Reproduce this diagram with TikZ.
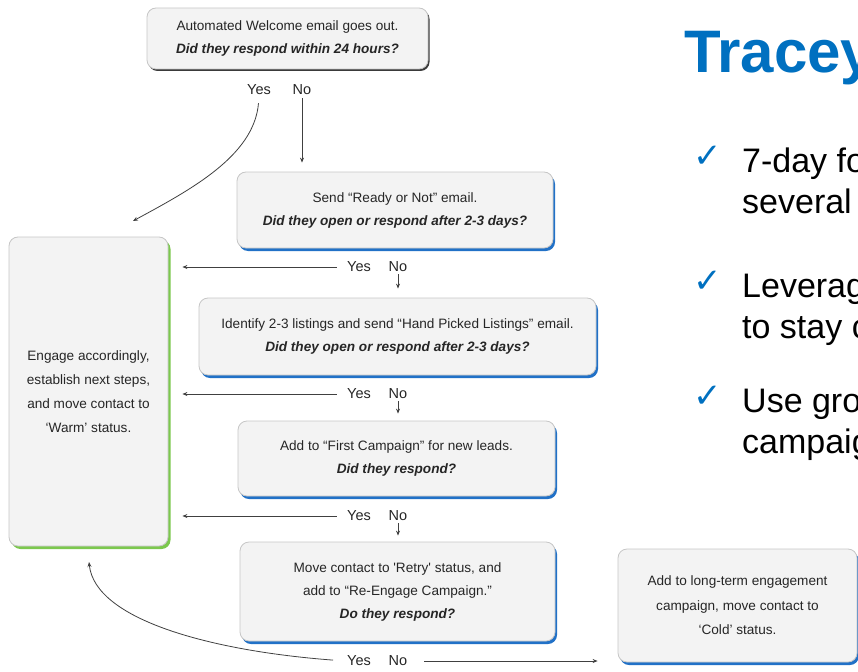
\documentclass[tikz,border=0pt]{standalone}
\usepackage{fontspec}
\setmainfont{Liberation Sans}
\newfontfamily\symfont{DejaVu Sans}
\usetikzlibrary{arrows.meta,shadows}

\definecolor{boxfill}{HTML}{F3F3F3}
\definecolor{boxline}{HTML}{C6C6C6}
\definecolor{boxtext}{HTML}{262626}
\definecolor{darkshade}{HTML}{3A3A3A}
\definecolor{blueshade}{HTML}{2171C7}
\definecolor{greenshade}{HTML}{7CC84E}
\definecolor{titleblue}{HTML}{0070C0}
\definecolor{linegrey}{HTML}{404040}

\tikzset{
  card/.style={draw=boxline, fill=boxfill, rounded corners=9pt, line width=0.8pt,
    align=center, text=boxtext, inner sep=0pt, font=\fontsize{13.6}{23}\selectfont},
  darkcard/.style={card, drop shadow={shadow xshift=1.5pt, shadow yshift=-2pt, fill=darkshade, opacity=1}},
  bluecard/.style={card, drop shadow={shadow xshift=2pt, shadow yshift=-3pt, fill=blueshade, opacity=1}},
  greencard/.style={card, drop shadow={shadow xshift=2.5pt, shadow yshift=-3pt, fill=greenshade, opacity=1}},
  yn/.style={font=\fontsize{14.5}{16}\selectfont, text=boxtext, inner sep=2pt},
  conn/.style={draw=linegrey, line width=0.8pt},
  tick/.style={font=\symfont\fontsize{34}{34}\selectfont, text=titleblue, inner sep=0pt},
  bullet/.style={font=\fontsize{34}{41}\selectfont, anchor=base west, inner sep=0pt},
}

\begin{document}
\begin{tikzpicture}[x=1pt,y=-1pt,>={Stealth[length=5pt,width=4pt]}]
  \useasboundingbox (0,0) rectangle (858,671);
  \clip (0,0) rectangle (858,671);

  %% flow boxes
  \node[darkcard, minimum width=281pt, minimum height=61pt] (1) at (287.5,38.5)
    {Automated Welcome email goes out.\\\textbf{\textit{Did they respond within 24 hours?}}};
  \node[bluecard, minimum width=316pt, minimum height=76pt] (2) at (395,210)
    {Send “Ready or Not” email.\\\textbf{\textit{Did they open or respond after 2-3 days?}}};
  \node[bluecard, minimum width=397pt, minimum height=77pt] (3) at (397.5,336.5)
    {Identify 2-3 listings and send “Hand Picked Listings” email.\\\textbf{\textit{Did they open or respond after 2-3 days?}}};
  \node[bluecard, minimum width=317pt, minimum height=75pt] (4) at (396.5,458.5)
    {Add to “First Campaign” for new leads.\\\textbf{\textit{Did they respond?}}};
  \node[bluecard, minimum width=315pt, minimum height=99pt] (5) at (397.5,591.5)
    {Move contact to \textquotesingle Retry\textquotesingle{} status, and\\add to “Re-Engage Campaign.”\\\textbf{\textit{Do they respond?}}};
  \node[bluecard, minimum width=239pt, minimum height=113pt, font=\fontsize{13.6}{24.5}\selectfont] (6) at (737.5,605.5)
    {Add to long-term engagement\\campaign, move contact to\\‘Cold’ status.};
  \node[greencard, minimum width=159pt, minimum height=309pt, font=\fontsize{13.6}{24}\selectfont] (7) at (88.5,391.5)
    {Engage accordingly,\\establish next steps,\\and move contact to\\‘Warm’ status.};

  %% yes / no answers
  \node[yn] (y1) at (259,90) {Yes};
  \node[yn] (n1) at (302,90) {No};
  \node[yn] (y2) at (359,267) {Yes};
  \node[yn] (n2) at (398,267) {No};
  \node[yn] (y3) at (359,394) {Yes};
  \node[yn] (n3) at (398,394) {No};
  \node[yn] (y4) at (359,516) {Yes};
  \node[yn] (n4) at (398,516) {No};
  \node[yn] (y5) at (359,661) {Yes};
  \node[yn] (n5) at (398,661) {No};

  \coordinate (w1) at (133,221);
  \coordinate (w5) at (89,562);

  \draw[conn,->,shorten <=6pt] (y1.south) .. controls +(-5,59) and +(57,-31) .. (w1);
  \draw[conn,->,shorten <=1pt,shorten >=9pt] (n1.south) -- (n1.south |- 2.north);

  \draw[conn,->,shorten <=8pt,shorten >=14pt] (y2.west) -- (y2.west -| 7.east);
  \draw[conn,->,shorten >=9pt] (n2.south) -- (n2.south |- 3.north);

  \draw[conn,->,shorten <=8pt,shorten >=14pt] (y3.west) -- (y3.west -| 7.east);
  \draw[conn,->,shorten >=7pt] (n3.south) -- (n3.south |- 4.north);

  \draw[conn,->,shorten <=8pt,shorten >=14pt] (y4.west) -- (y4.west -| 7.east);
  \draw[conn,->,shorten >=6pt] (n4.south) -- (n4.south |- 5.north);

  \draw[conn,->,shorten <=12pt] (y5.west) .. controls +(-133,-10) and +(6,58) .. (w5);
  \draw[conn,->,shorten <=15pt,shorten >=20pt] (n5.east) -- (n5.east -| 6.west);

  %% slide text on the right
  \node[anchor=base west, inner sep=0pt, text=titleblue, font=\bfseries\fontsize{60}{60}\selectfont] (tt) at (684,73) {Tracey};

  \node[tick] (t1) at (708,157) {✓};
  \node[bullet] (b1) at (742,172) {7-day fo};
  \node[bullet] (b1b) at (742,213) {several};
  \node[tick] (t2) at (708,282) {✓};
  \node[bullet] (b2) at (742,297) {Leverag};
  \node[bullet] (b2b) at (742,338) {to stay c};
  \node[tick] (t3) at (708,397) {✓};
  \node[bullet] (b3) at (742,412) {Use gro};
  \node[bullet] (b3b) at (742,453) {campaig};
\end{tikzpicture}
\end{document}
